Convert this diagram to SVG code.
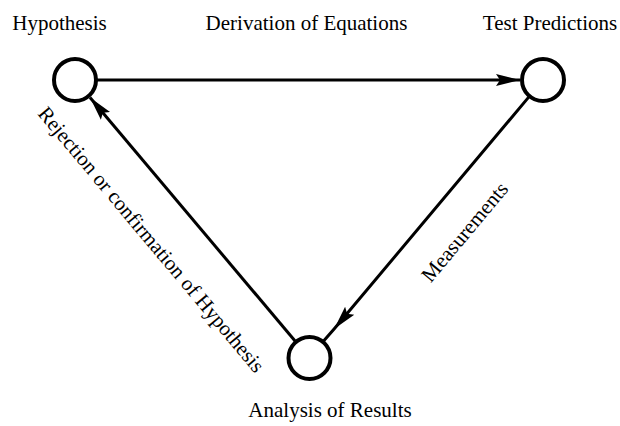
<svg xmlns="http://www.w3.org/2000/svg" width="620" height="426" viewBox="0 0 620 426">
<defs>
<style>
.lbl{font-family:"Liberation Serif","Times New Roman",serif;font-size:21px;fill:#000;}
.node{fill:none;stroke:#000;stroke-width:4;}
.edge{stroke:#000;stroke-width:3;fill:none;}
</style>
<marker id="ah" markerUnits="userSpaceOnUse" markerWidth="26" markerHeight="14" refX="24" refY="7" orient="auto">
<path d="M0,1 L24,7 L0,13 L4,7 z" fill="#000"/>
</marker>
</defs>
<rect width="620" height="426" fill="#fff"/>
<g id="connectors">
<line class="edge" x1="97" y1="80" x2="520" y2="80" marker-end="url(#ah)"/>
<path class="edge" d="M528.9,96.9 L334.1,329 L323.6,341.1" marker-mid="url(#ah)"/>
<line class="edge" x1="295.3" y1="341.2" x2="90" y2="97.5" marker-end="url(#ah)"/>
</g>
<g id="hypothesis">
<circle class="node" cx="75" cy="80" r="21"/>
<text class="lbl" x="59.5" y="30" text-anchor="middle">Hypothesis</text>
</g>
<g id="test-predictions">
<circle class="node" cx="543" cy="80" r="21"/>
<text class="lbl" x="550" y="30" text-anchor="middle">Test Predictions</text>
</g>
<g id="analysis-of-results">
<circle class="node" cx="309.5" cy="358" r="21"/>
<text class="lbl" x="330" y="417" text-anchor="middle">Analysis of Results</text>
</g>
<g id="edge-labels">
<text class="lbl" x="306.5" y="30" text-anchor="middle">Derivation of Equations</text>
<text class="lbl" x="470" y="236.5" text-anchor="middle" transform="rotate(-50 470 236.5)">Measurements</text>
<text class="lbl" x="146" y="244" text-anchor="middle" transform="rotate(50 146 244)">Rejection or confirmation of Hypothesis</text>
</g>
</svg>
